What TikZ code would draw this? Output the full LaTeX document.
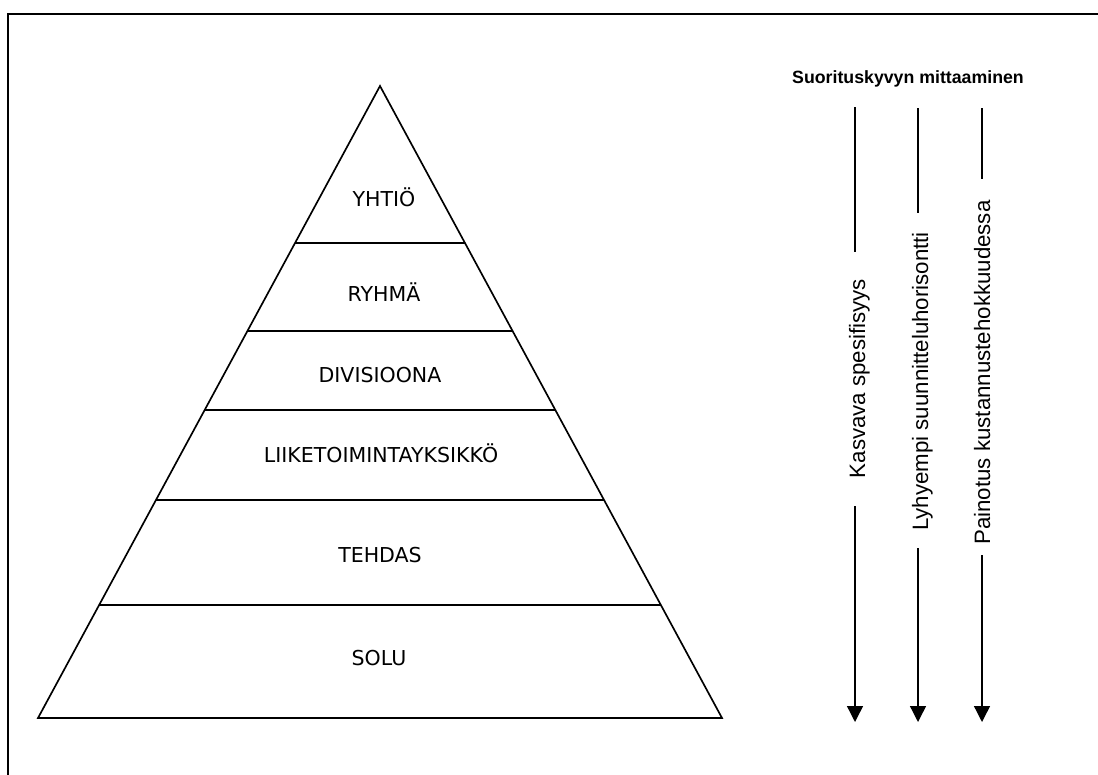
\documentclass[tikz,border=0pt]{standalone}
\usepackage{fontspec}
\setmainfont{Liberation Sans}
\newfontfamily\levelfont{DejaVu Sans}
\usetikzlibrary{arrows.meta,calc}
\begin{document}
\begin{tikzpicture}[x=0.75pt,y=-0.75pt,
  frameline/.style={line width=1.5pt},
  pyrline/.style={line width=1.25pt, line join=miter},
  level/.style={anchor=base, inner sep=0pt, font=\levelfont\fontsize{15.4}{18}\selectfont},
  sidetext/.style={anchor=base, rotate=90, inner sep=0pt, font=\fontsize{16.7}{19}\selectfont},
  titletext/.style={anchor=base, inner sep=0pt, font=\bfseries\fontsize{13.3}{16}\selectfont},
  arrowline/.style={line width=1pt},
  arrowhead/.style={arrowline, -{Triangle[width=12pt,length=12pt]}}
]
\useasboundingbox (0,0) rectangle (1098,774);
\clip (0,0) rectangle (1098,774);
\draw[frameline] (8.2,14.3) rectangle (1200,900);

% pyramid
\coordinate (apex) at (380,86);
\coordinate (bl) at (38,718);
\coordinate (br) at (722,718);
\draw[pyrline] (apex) -- (bl) -- (br) -- cycle;
\foreach \t in {0.2484,0.3877,0.5127,0.6551,0.8212}{
  \draw[pyrline] ($(apex)!\t!(bl)$) -- ($(apex)!\t!(br)$);
}
\node[level] (yhtio) at (384,206) {YHTIÖ};
\node[level] (ryhma) at (384,301) {RYHMÄ};
\node[level] (divisioona) at (380,382) {DIVISIOONA};
\node[level] (liiketoiminta) at (381,462) {LIIKETOIMINTAYKSIKKÖ};
\node[level] (tehdas) at (380,562) {TEHDAS};
\node[level] (solu) at (379,665) {SOLU};

% title
\node[titletext] (title) at (908,84) {Suorituskyvyn mittaaminen};

% arrows
\coordinate (a1top) at (855,107);
\coordinate (a1up) at (855,252);
\coordinate (a1low) at (855,506);
\coordinate (a1tip) at (855,722);
\coordinate (a2top) at (918,108);
\coordinate (a2up) at (918,213);
\coordinate (a2low) at (918,548);
\coordinate (a2tip) at (918,722);
\coordinate (a3top) at (982,108);
\coordinate (a3up) at (982,179);
\coordinate (a3low) at (982,555);
\coordinate (a3tip) at (982,722);

\node[sidetext] (kasvava) at (865,378.5) {Kasvava spesifisyys};
\node[sidetext] (lyhyempi) at (928,381.5) {Lyhyempi suunnitteluhorisontti};
\node[sidetext] (painotus) at (990,372.5) {Painotus kustannustehokkuudessa};

\draw[arrowline] (a1top) -- (a1up);
\draw[arrowhead] (a1low) -- (a1tip);
\draw[arrowline] (a2top) -- (a2up);
\draw[arrowhead] (a2low) -- (a2tip);
\draw[arrowline] (a3top) -- (a3up);
\draw[arrowhead] (a3low) -- (a3tip);
\end{tikzpicture}
\end{document}
